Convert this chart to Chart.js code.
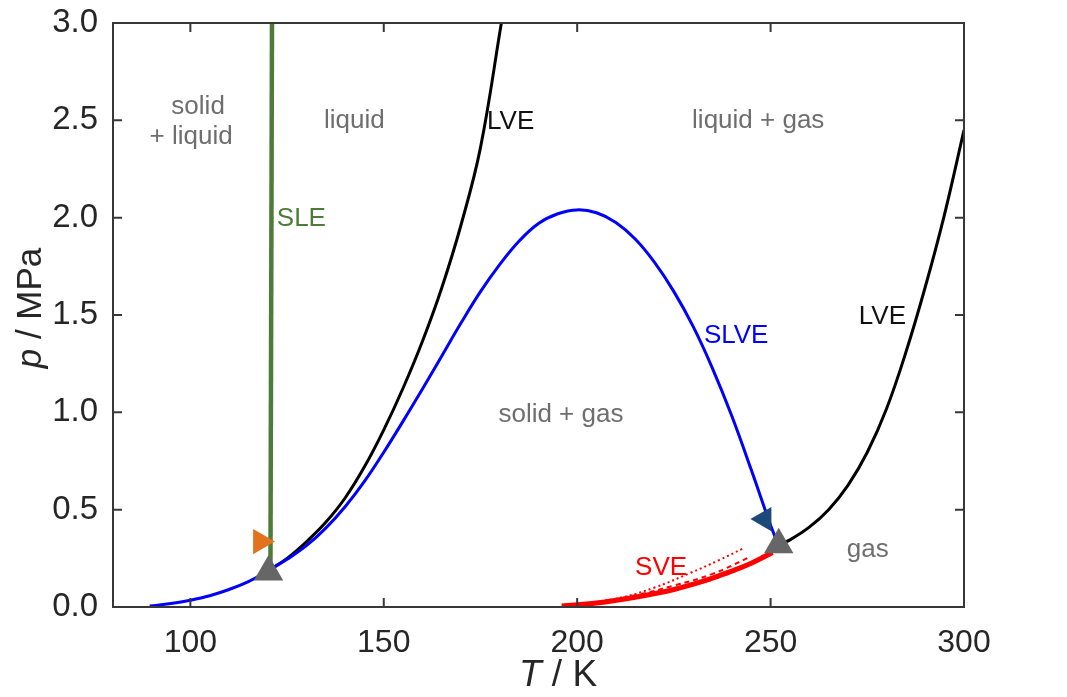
<!DOCTYPE html>
<html>
<head>
<meta charset="utf-8">
<script src="https://cdn.jsdelivr.net/npm/chart.js@4.4.0/dist/chart.umd.min.js"></script>
<style>
  html, body { margin: 0; padding: 0; background: #fff; }
  #wrap { width: 1067px; height: 697px; position: relative; }
</style>
</head>
<body>
<div id="wrap"><canvas id="chart"></canvas></div>
<script>
const xTicks = [100, 150, 200, 250, 300];
const yTicks = [0.0, 0.5, 1.0, 1.5, 2.0, 2.5, 3.0];

// SLVE (blue)
const slveT = [89.5, 95, 100, 105, 110, 115, 120.4, 125, 130, 135, 140, 145, 150, 155, 160, 165, 170, 175, 180, 185, 190, 195, 200, 205, 210, 215, 220, 225, 230, 235, 240, 245, 250, 251.8];
const slveP = [0.005, 0.018, 0.035, 0.058, 0.09, 0.13, 0.19, 0.245, 0.315, 0.405, 0.515, 0.645, 0.795, 0.955, 1.12, 1.29, 1.46, 1.62, 1.76, 1.88, 1.97, 2.02, 2.04, 2.025, 1.975, 1.89, 1.77, 1.62, 1.44, 1.225, 0.98, 0.705, 0.42, 0.33];

// LVE (black), low-T branch and high-T branch
const lveLowT = [120.4, 125, 130, 135, 140, 145, 150, 155, 160, 165, 170, 175, 180.4];
const lveLowP = [0.19, 0.25, 0.335, 0.435, 0.56, 0.72, 0.91, 1.125, 1.365, 1.64, 1.965, 2.36, 3.0];
const lveHighT = [252.1, 255, 260, 265, 270, 275, 280, 285, 290, 295, 300];
const lveHighP = [0.32, 0.345, 0.41, 0.5, 0.625, 0.795, 1.02, 1.31, 1.645, 2.02, 2.45];

// SLE (green)
const sleT = [120.7, 121.1];
const sleP = [0.19, 3.0];

// SVE (red), several model variants
const sveSolidT = [196, 205, 215, 225, 233, 240, 245, 250.5];
const sveSolidP = [0.005, 0.02, 0.05, 0.09, 0.135, 0.185, 0.225, 0.28];
const sveDashDotT = [200, 210, 220, 230, 238, 245, 251];
const sveDashDotP = [0.01, 0.035, 0.07, 0.115, 0.165, 0.225, 0.30];
const sveDashT = [205, 215, 225, 235, 245];
const sveDashP = [0.025, 0.06, 0.11, 0.17, 0.26];
const sveDotT = [197, 210.8, 220, 229, 236.7, 242.8];
const sveDotP = [0.005, 0.046, 0.1, 0.173, 0.241, 0.30];

// triple / marker points
const triplePointsT = [120.2, 252.1];
const triplePointsP = [0.18, 0.32];
const orangeMarkT = [118.1];
const orangeMarkP = [0.336];
const navyMarkT = [248.4];
const navyMarkP = [0.452];

const FONT = "'Liberation Sans', Arial, Helvetica, sans-serif";

const pts = (xs, ys) => xs.map((x, i) => ({ x: x, y: ys[i] }));

// region labels, placed in data coordinates
const regionLabels = [
  { text: 'solid', t: 102.0, p: 2.57, color: '#6e6e6e' },
  { text: '+ liquid', t: 100.2, p: 2.415, color: '#6e6e6e' },
  { text: 'liquid', t: 142.4, p: 2.5, color: '#6e6e6e' },
  { text: 'LVE', t: 182.8, p: 2.49, color: '#111111' },
  { text: 'liquid + gas', t: 246.8, p: 2.5, color: '#6e6e6e' },
  { text: 'SLE', t: 128.7, p: 1.993, color: '#4d7c3a' },
  { text: 'SLVE', t: 241.1, p: 1.392, color: '#0000ff' },
  { text: 'LVE', t: 278.9, p: 1.49, color: '#111111' },
  { text: 'solid + gas', t: 195.8, p: 0.986, color: '#6e6e6e' },
  { text: 'SVE', t: 221.7, p: 0.2, color: '#ff0000' },
  { text: 'gas', t: 275.1, p: 0.293, color: '#6e6e6e' }
];

const framePlugin = {
  id: 'frame',
  afterDatasetsDraw(chart) {
    const ctx = chart.ctx;
    const a = chart.chartArea;
    const xs = chart.scales.x, ys = chart.scales.y;
    ctx.save();

    // text labels inside the plot
    ctx.font = '26px ' + FONT;
    ctx.textAlign = 'center';
    ctx.textBaseline = 'middle';
    regionLabels.forEach(l => {
      ctx.fillStyle = l.color;
      ctx.fillText(l.text, xs.getPixelForValue(l.t), ys.getPixelForValue(l.p));
    });

    // box with inward ticks
    ctx.strokeStyle = '#383838';
    ctx.lineWidth = 2;
    ctx.strokeRect(a.left, a.top, a.right - a.left, a.bottom - a.top);
    const tl = 9;
    ctx.beginPath();
    xTicks.forEach(v => {
      const x = xs.getPixelForValue(v);
      ctx.moveTo(x, a.bottom); ctx.lineTo(x, a.bottom - tl);
      ctx.moveTo(x, a.top); ctx.lineTo(x, a.top + tl);
    });
    yTicks.forEach(v => {
      const y = ys.getPixelForValue(v);
      ctx.moveTo(a.left, y); ctx.lineTo(a.left + tl, y);
      ctx.moveTo(a.right, y); ctx.lineTo(a.right - tl, y);
    });
    ctx.stroke();

    // axis titles with italic symbols
    ctx.fillStyle = '#262626';
    ctx.textBaseline = 'middle';
    ctx.textAlign = 'left';
    const drawTitle = (sym, rest, cx, cy, rot, size) => {
      ctx.save();
      ctx.translate(cx, cy);
      ctx.rotate(rot);
      ctx.font = 'italic ' + size + 'px ' + FONT;
      const w1 = ctx.measureText(sym).width;
      ctx.font = size + 'px ' + FONT;
      const w2 = ctx.measureText(rest).width;
      const x0 = -(w1 + w2) / 2;
      ctx.font = 'italic ' + size + 'px ' + FONT;
      ctx.fillText(sym, x0, 0);
      ctx.font = size + 'px ' + FONT;
      ctx.fillText(rest, x0 + w1, 0);
      ctx.restore();
    };
    drawTitle('T', ' / K', 558, 676, 0, 37);
    drawTitle('p', ' / MPa', 31, 308, -Math.PI / 2, 35);
    ctx.restore();
  }
};

const lineDs = (data, color, width, dash) => ({
  data: data,
  showLine: true,
  borderColor: color,
  backgroundColor: color,
  borderWidth: width,
  borderDash: dash || [],
  pointRadius: 0,
  fill: false,
  tension: 0.4
});

const markDs = (data, color, radius, rotation) => ({
  data: data,
  showLine: false,
  pointStyle: 'triangle',
  pointRadius: radius,
  pointRotation: rotation,
  pointBackgroundColor: color,
  pointBorderColor: color,
  pointBorderWidth: 0
});

new Chart(document.getElementById('chart'), {
  type: 'scatter',
  data: {
    datasets: [
      markDs(pts(triplePointsT, triplePointsP), '#666666', 17, 0),
      markDs(pts(orangeMarkT, orangeMarkP), '#e3711d', 14.5, 90),
      markDs(pts(navyMarkT, navyMarkP), '#1b4a78', 14, -90),
      lineDs(pts(sveSolidT, sveSolidP), '#ff0000', 5),
      lineDs(pts(sveDashDotT, sveDashDotP), '#ff0000', 3, [12, 5, 3, 5]),
      lineDs(pts(sveDashT, sveDashP), '#ff0000', 2, [5, 4]),
      lineDs(pts(sveDotT, sveDotP), '#ff0000', 2, [2, 3]),
      lineDs(pts(slveT, slveP), '#0000ff', 3),
      lineDs(pts(lveLowT, lveLowP), '#000000', 3),
      lineDs(pts(lveHighT, lveHighP), '#000000', 3),
      Object.assign(lineDs(pts(sleT, sleP), '#4d7c3a', 4.5), { tension: 0 })
    ]
  },
  options: {
    responsive: true,
    maintainAspectRatio: false,
    animation: false,
    layout: { padding: { top: 23, right: 103, left: 0, bottom: 0 } },
    plugins: { legend: { display: false }, tooltip: { enabled: false } },
    scales: {
      x: {
        type: 'linear',
        min: 80,
        max: 300,
        grid: { display: false, drawTicks: false },
        border: { display: false },
        ticks: { padding: 17, color: '#262626', font: { size: 32, family: FONT }, maxRotation: 0, autoSkip: false },
        afterBuildTicks: s => { s.ticks = xTicks.map(v => ({ value: v })); },
        afterFit: s => { s.height = 90; s.paddingLeft = 0; s.paddingRight = 0; }
      },
      y: {
        type: 'linear',
        min: 0,
        max: 3,
        grid: { display: false, drawTicks: false },
        border: { display: false },
        ticks: { padding: 15, color: '#262626', font: { size: 33, family: FONT }, autoSkip: false,
          callback: v => Number(v).toFixed(1) },
        afterBuildTicks: s => { s.ticks = yTicks.map(v => ({ value: v })); },
        afterFit: s => { s.width = 113; s.paddingTop = 0; s.paddingBottom = 0; }
      }
    }
  },
  plugins: [framePlugin]
});
</script>
</body>
</html>
